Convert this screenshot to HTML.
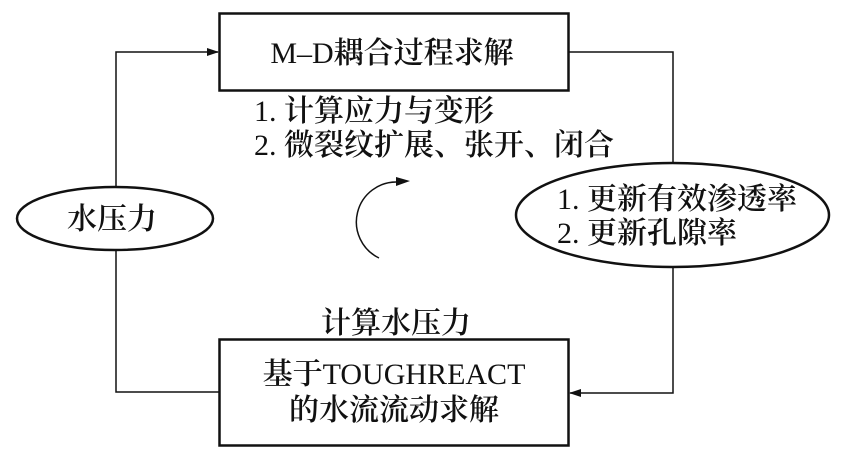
<!DOCTYPE html>
<html><head><meta charset="utf-8"><style>
body{margin:0;background:#fff;}
svg{display:block;}
text{font-family:"Liberation Serif","Noto Serif CJK SC","WenQuanYi Zen Hei",serif;fill:#111;font-weight:600;}
.n{font-weight:normal;}
</style></head><body>
<svg width="852" height="460" viewBox="0 0 852 460">
<defs><marker id="a" markerWidth="12" markerHeight="8" refX="11" refY="4" orient="auto" markerUnits="userSpaceOnUse"><path d="M0,0 L12,4 L0,8 z" fill="#111"/></marker></defs>
<g fill="none" stroke="#111">
<rect x="219.5" y="13.5" width="349" height="77" stroke-width="2.5"/>
<rect x="219.5" y="339.5" width="349" height="106" stroke-width="2.5"/>
<ellipse cx="115" cy="218.5" rx="98" ry="31.5" stroke-width="2.5"/>
<ellipse cx="672.5" cy="215" rx="156.5" ry="52" stroke-width="2.5"/>
<polyline points="116,187 116,52 218,52" stroke-width="1.5" marker-end="url(#a)"/>
<polyline points="568,52 673,52 673,163" stroke-width="1.5"/>
<polyline points="673,267 673,393 570,393" stroke-width="1.5" marker-end="url(#a)"/>
<polyline points="116,250 116,392 219,392" stroke-width="1.5"/>
<path d="M379,258 A40,40 0 0 1 398,182" stroke-width="1.5"/>
</g>
<path d="M396,177 L410,181 L396,186 z" fill="#111"/>
<text x="392" y="63" font-size="30" text-anchor="middle"><tspan class="n">M–D</tspan>耦合过程求解</text>
<text x="254" y="121" font-size="30"><tspan class="n">1. </tspan>计算应力与变形</text>
<text x="254" y="155" font-size="30"><tspan class="n">2. </tspan>微裂纹扩展、张开、闭合</text>
<text x="557" y="209" font-size="30"><tspan class="n">1. </tspan>更新有效渗透率</text>
<text x="557" y="243" font-size="30"><tspan class="n">2. </tspan>更新孔隙率</text>
<text x="112" y="229" font-size="30" text-anchor="middle">水压力</text>
<text x="396" y="333" font-size="30" text-anchor="middle">计算水压力</text>
<text x="394" y="384" font-size="30" text-anchor="middle">基于<tspan class="n">TOUGHREACT</tspan></text>
<text x="394" y="420" font-size="30" text-anchor="middle">的水流流动求解</text>
</svg>
</body></html>
